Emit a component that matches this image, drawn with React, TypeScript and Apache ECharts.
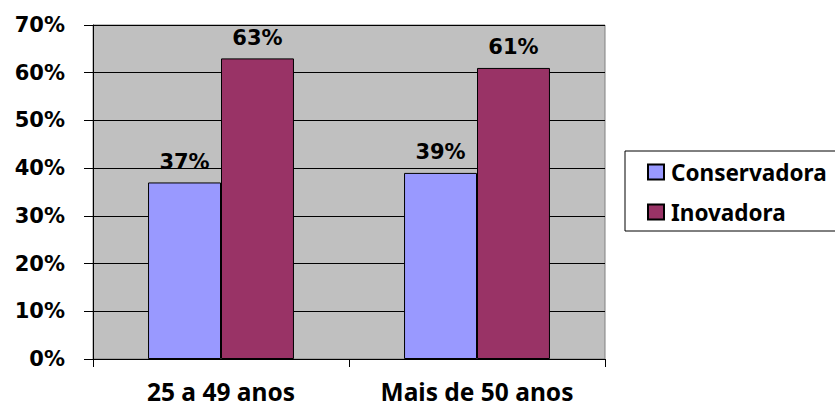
import React, { useEffect, useRef } from "react";
import * as echarts from "echarts";

const categories = ["25 a 49 anos", "Mais de 50 anos"];
const conservadora = [37, 39];
const inovadora = [63, 61];
const seriesNames = ["Conservadora", "Inovadora"];

export default function App() {
  const ref = useRef<HTMLDivElement>(null);
  useEffect(() => {
    const chart = echarts.init(ref.current!, null, { renderer: "svg" });
    const labelStyle = {
      show: true,
      position: "top" as const,
      distance: 10,
      formatter: "{c}%",
      fontFamily: "DejaVu Sans",
      fontWeight: "bold" as const,
      fontSize: 21,
      color: "#000",
    };
    chart.setOption({
      animation: false,
      backgroundColor: "#fff",
      grid: {
        left: 93,
        right: 230,
        top: 25,
        bottom: 48,
        show: true,
        backgroundColor: "#C0C0C0",
        borderColor: "#808080",
        borderWidth: 1,
      },
      legend: {
        orient: "vertical",
        left: 625,
        top: 151,
        icon: "rect",
        itemWidth: 16,
        itemHeight: 15,
        itemGap: 16,
        padding: [9, 40, 7, 22],
        borderColor: "#000",
        borderWidth: 1,
        textStyle: {
          fontFamily: "Noto Sans",
          fontWeight: 700,
          fontSize: 22.5,
          lineHeight: 24,
          padding: [0, 0, 0, 2],
          color: "#000",
        },
        data: seriesNames,
      },
      xAxis: {
        type: "category",
        data: categories,
        axisLine: { lineStyle: { color: "#000", width: 1 } },
        axisTick: { show: true, length: 8, lineStyle: { color: "#000" } },
        axisLabel: {
          margin: 23,
          lineHeight: 18,
          fontFamily: "Noto Sans",
          fontWeight: 700,
          fontSize: 24.5,
          color: "#000",
        },
      },
      yAxis: {
        type: "value",
        min: 0,
        max: 70,
        interval: 10,
        axisLine: { show: true, lineStyle: { color: "#000", width: 1 } },
        axisTick: { show: true, length: 9, lineStyle: { color: "#000" } },
        splitLine: { show: true, lineStyle: { color: "#000", width: 1 } },
        axisLabel: {
          formatter: "{value}%",
          margin: 28,
          fontFamily: "DejaVu Sans",
          fontWeight: "bold",
          fontSize: 21,
          color: "#000",
        },
      },
      series: [
        {
          name: seriesNames[0],
          type: "bar",
          data: conservadora,
          barGap: "0%",
          barCategoryGap: "43%",
          itemStyle: { color: "#9999FF", borderColor: "#000", borderWidth: 1 },
          label: labelStyle,
        },
        {
          name: seriesNames[1],
          type: "bar",
          data: inovadora,
          barGap: "0%",
          barCategoryGap: "43%",
          itemStyle: { color: "#993366", borderColor: "#000", borderWidth: 1 },
          label: labelStyle,
        },
      ],
    });
    return () => chart.dispose();
  }, []);
  return (
    <div
      ref={ref}
      style={{ position: "fixed", left: 0, top: 0, width: 835, height: 407 }}
    />
  );
}
